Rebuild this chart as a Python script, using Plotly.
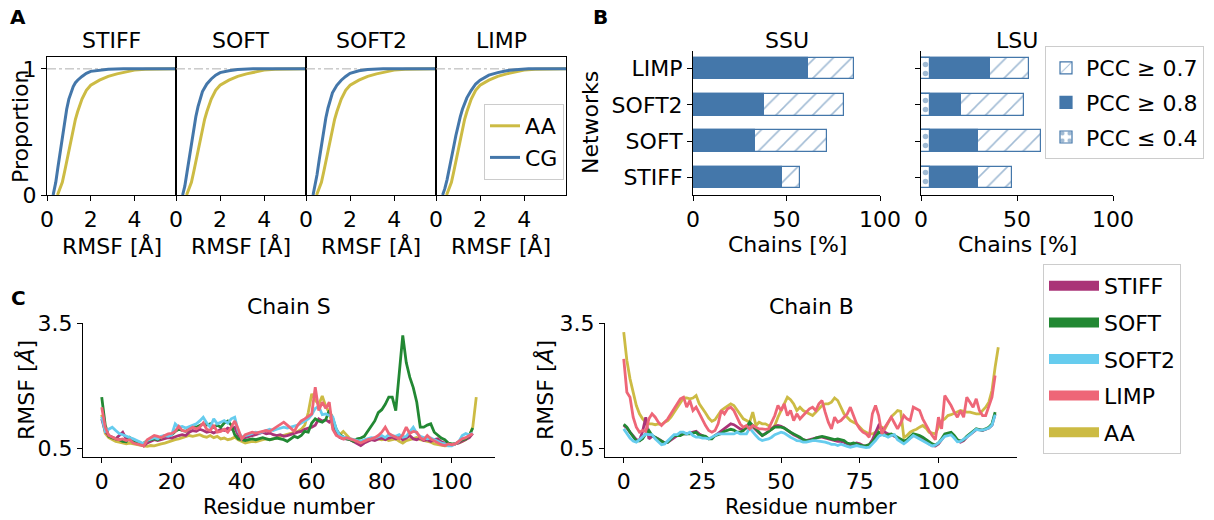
import plotly.graph_objects as go

W, H = 1214, 520
FONT = "DejaVu Sans"
FS = 22

def fx(x):
    return x / W

def fy(y):
    return 1 - y / H

BLUE = "#4477AA"
C_STIFF = "#AA3377"
C_SOFT = "#228833"
C_SOFT2 = "#66CCEE"
C_LIMP = "#EE6677"
C_AA = "#CCBB44"

# ---------------- Panel A : cumulative RMSF distributions ----------------
networks = ["STIFF", "SOFT", "SOFT2", "LIMP"]

cdf_aa_x = [0.48, 0.6, 0.7, 0.8, 0.9, 1.0, 1.1, 1.2, 1.3, 1.4, 1.6, 1.8, 2.0, 2.4, 2.8, 3.2, 3.6, 4.0, 4.5, 5.9]
cdf_aa_y = [0.0, 0.05, 0.1, 0.18, 0.27, 0.36, 0.45, 0.53, 0.6, 0.66, 0.76, 0.83, 0.87, 0.91, 0.94, 0.96, 0.975, 0.99, 0.997, 1.0]

cdf_stiff_x = [0.28, 0.4, 0.5, 0.6, 0.7, 0.8, 0.9, 1.0, 1.1, 1.2, 1.3, 1.4, 1.6, 1.8, 2.0, 2.4, 2.8, 3.5, 5.9]
cdf_stiff_y = [0.0, 0.1, 0.22, 0.34, 0.46, 0.58, 0.68, 0.76, 0.82, 0.86, 0.89, 0.91, 0.94, 0.965, 0.98, 0.99, 0.996, 1.0, 1.0]

cdf_soft_x = [0.3, 0.4, 0.5, 0.6, 0.7, 0.8, 0.9, 1.0, 1.1, 1.2, 1.4, 1.6, 1.8, 2.0, 2.4, 2.8, 3.5, 5.9]
cdf_soft_y = [0.0, 0.07, 0.18, 0.3, 0.41, 0.52, 0.62, 0.7, 0.77, 0.82, 0.88, 0.92, 0.95, 0.97, 0.985, 0.995, 1.0, 1.0]

cdf_soft2_x = [0.32, 0.4, 0.5, 0.6, 0.7, 0.8, 0.9, 1.0, 1.1, 1.2, 1.4, 1.6, 1.8, 2.0, 2.4, 2.8, 3.5, 5.9]
cdf_soft2_y = [0.0, 0.06, 0.16, 0.28, 0.4, 0.51, 0.61, 0.69, 0.76, 0.81, 0.87, 0.91, 0.94, 0.965, 0.985, 0.995, 1.0, 1.0]

cdf_limp_x = [0.3, 0.4, 0.5, 0.6, 0.7, 0.8, 0.9, 1.0, 1.1, 1.2, 1.4, 1.6, 1.8, 2.0, 2.4, 2.8, 3.2, 3.6, 4.2, 5.9]
cdf_limp_y = [0.0, 0.05, 0.12, 0.2, 0.29, 0.38, 0.47, 0.55, 0.62, 0.68, 0.77, 0.83, 0.88, 0.91, 0.95, 0.97, 0.985, 0.993, 1.0, 1.0]

# ---------------- Panel B : chains with good correlation ----------------
ssu_pcc07 = [57.0, 71.6, 81.0, 86.0]   # STIFF, SOFT, SOFT2, LIMP
ssu_pcc08 = [47.6, 33.3, 37.9, 61.7]
lsu_pcc07 = [47.3, 62.5, 53.5, 56.3]
lsu_pcc08 = [29.8, 29.8, 21.0, 35.8]
lsu_pcc04 = [4.8, 4.8, 4.8, 4.8]
bar_pos = [0, 1, 2, 3]

# ---------------- Panel C : per-residue RMSF ----------------
chain_s_res_cg = list(range(107))
chain_s_res_aa = list(range(108))

chain_s_stiff = [
    1.2, 0.9, 0.8, 0.75, 0.72, 0.8, 0.88, 0.72, 0.7, 0.68,
    0.65, 0.6, 0.55, 0.62, 0.66, 0.7, 0.68, 0.7, 0.72, 0.75,
    0.74, 0.78, 0.8, 0.82, 0.8, 0.88, 0.92, 0.9, 0.95, 0.92,
    0.88, 0.9, 0.86, 0.9, 0.95, 0.92, 0.98, 0.95, 1.0, 0.8,
    0.72, 0.75, 0.78, 0.8, 0.82, 0.85, 0.88, 0.84, 0.86, 0.82,
    0.8, 0.82, 0.78, 0.8, 0.82, 0.85, 0.88, 0.9, 0.95, 0.98,
    1.0, 1.05, 1.2, 1.15, 1.18, 1.12, 1.2, 0.85, 0.75, 0.72,
    0.72, 0.7, 0.66, 0.6, 0.56, 0.62, 0.66, 0.7, 0.68, 0.72,
    0.74, 0.7, 0.74, 0.76, 0.72, 0.78, 0.7, 0.74, 0.8, 0.72,
    0.7, 0.74, 0.68, 0.7, 0.66, 0.7, 0.72, 0.65, 0.62, 0.6,
    0.58, 0.6, 0.62, 0.66, 0.7, 0.75, 0.85]
chain_s_soft = [
    1.72, 1.05, 0.78, 0.74, 0.72, 0.7, 0.66, 0.65, 0.75, 0.65,
    0.62, 0.6, 0.62, 0.68, 0.7, 0.72, 0.7, 0.75, 0.8, 0.8,
    0.82, 0.9, 0.95, 0.92, 0.9, 0.95, 1.02, 1.0, 1.05, 1.08,
    1.05, 1.08, 1.0, 1.05, 1.0, 1.1, 1.15, 1.05, 0.82, 0.72,
    0.7, 0.68, 0.7, 0.72, 0.7, 0.72, 0.75, 0.72, 0.7, 0.72,
    0.74, 0.72, 0.7, 0.66, 0.72, 0.78, 0.75, 0.8, 0.9, 0.88,
    1.1, 1.2, 1.15, 1.12, 1.18, 1.4, 1.2, 0.95, 0.82, 0.78,
    0.72, 0.7, 0.66, 0.72, 0.74, 0.78, 0.9, 1.0, 1.15, 1.35,
    1.42, 1.55, 1.72, 1.72, 1.4, 2.3, 3.2, 2.55, 2.2, 1.95,
    1.6, 1.0, 1.0, 1.05, 1.08, 0.88, 0.8, 0.74, 0.7, 0.62,
    0.6, 0.6, 0.65, 0.7, 0.72, 0.8, 0.98]
chain_s_soft2 = [
    1.25, 0.9, 0.95, 1.0, 0.92, 0.85, 0.82, 0.78, 0.75, 0.72,
    0.68, 0.65, 0.6, 0.68, 0.72, 0.75, 0.72, 0.78, 0.8, 0.78,
    0.82, 1.08, 1.0, 1.02, 0.98, 1.02, 1.05, 1.08, 1.15, 1.24,
    1.1, 1.0, 1.2, 1.08, 1.12, 1.16, 1.1, 1.2, 1.24, 0.9,
    0.76, 0.8, 0.82, 0.85, 0.88, 0.86, 0.9, 0.92, 0.95, 0.92,
    0.95, 0.98, 1.0, 0.98, 1.0, 1.02, 1.05, 1.1, 1.15, 1.2,
    1.3, 1.45, 1.5, 1.3, 1.32, 1.28, 1.25, 0.95, 0.8, 0.76,
    0.74, 0.72, 0.7, 0.68, 0.66, 0.7, 0.72, 0.75, 0.74, 0.78,
    0.8, 0.75, 0.82, 0.8, 0.78, 0.82, 0.76, 0.78, 0.9, 1.0,
    0.85, 0.78, 0.75, 0.72, 0.74, 0.7, 0.65, 0.62, 0.6, 0.55,
    0.55, 0.6, 0.65, 0.8, 0.85, 0.82, 0.86]
chain_s_limp = [
    1.48, 1.0, 0.8, 0.75, 0.72, 0.7, 0.72, 0.68, 0.7, 0.62,
    0.6, 0.58, 0.55, 0.7, 0.75, 0.8, 0.78, 0.75, 0.8, 0.84,
    0.85, 0.9, 1.02, 0.92, 0.9, 0.95, 1.0, 0.96, 1.0, 1.1,
    0.95, 0.92, 1.05, 0.88, 0.9, 0.95, 0.88, 1.0, 1.15, 0.95,
    0.72, 0.82, 0.85, 0.88, 0.86, 0.88, 0.9, 0.92, 0.9, 0.95,
    1.0, 1.05, 1.12, 1.05, 0.98, 0.9, 1.05, 1.15, 1.2, 1.25,
    1.32, 1.96, 1.4, 1.6, 1.45, 1.6, 0.95, 0.8, 0.76, 0.72,
    0.75, 0.72, 0.7, 0.66, 0.62, 0.66, 0.7, 0.72, 0.75, 0.8,
    0.88, 1.0, 0.85, 0.8, 0.75, 0.72, 0.82, 1.0, 0.85, 0.9,
    0.88, 0.75, 0.7, 0.8, 0.72, 0.68, 0.62, 0.58, 0.56, 0.6,
    0.58, 0.6, 0.66, 0.72, 0.75, 0.8, 0.85]
chain_s_aa = [
    1.3, 0.85, 0.75, 0.7, 0.66, 0.64, 0.62, 0.6, 0.62, 0.6,
    0.58, 0.56, 0.55, 0.54, 0.56, 0.55, 0.58, 0.6, 0.62, 0.65,
    0.68, 0.7, 0.72, 0.75, 0.78, 0.8, 0.78, 0.8, 0.82, 0.78,
    0.76, 0.8, 0.75, 0.78, 0.72, 0.74, 0.7, 0.72, 0.76, 0.7,
    0.65, 0.62, 0.64, 0.66, 0.65, 0.68, 0.7, 0.72, 0.7, 0.72,
    0.74, 0.78, 0.8, 0.82, 0.85, 0.88, 0.9, 0.95, 1.05, 1.35,
    1.8, 1.65, 1.55, 1.75, 1.5, 1.35, 1.0, 0.85, 0.82, 0.9,
    0.8, 0.72, 0.7, 0.66, 0.64, 0.66, 0.68, 0.7, 0.7, 0.72,
    0.7, 0.72, 0.68, 0.7, 0.72, 0.66, 0.62, 0.68, 0.7, 0.72,
    0.75, 0.7, 0.68, 0.66, 0.64, 0.6, 0.58, 0.56, 0.55, 0.56,
    0.58, 0.6, 0.62, 0.66, 0.7, 0.8, 1.0, 1.72]

chain_b_res_cg = list(range(119))
chain_b_res_aa = list(range(120))

chain_b_stiff = [
    1.05, 0.98, 0.88, 0.78, 0.7, 0.68, 0.9, 1.24, 0.72, 0.78,
    0.76, 0.72, 0.66, 0.62, 0.64, 0.7, 0.76, 0.8, 0.82, 0.84,
    0.84, 0.86, 0.88, 0.9, 0.84, 0.8, 0.76, 0.72, 0.74, 0.8,
    0.86, 0.92, 0.98, 1.04, 1.08, 1.06, 1.0, 0.96, 0.94, 0.98,
    1.08, 1.0, 0.94, 0.86, 0.8, 0.84, 0.9, 0.96, 1.02, 1.04,
    1.02, 0.98, 0.92, 0.86, 0.82, 0.78, 0.74, 0.7, 0.68, 0.7,
    0.72, 0.74, 0.76, 0.76, 0.74, 0.72, 0.7, 0.68, 0.66, 0.66,
    0.64, 0.6, 0.58, 0.6, 0.62, 0.6, 0.56, 0.55, 0.58, 0.7,
    0.88, 1.04, 0.96, 0.88, 0.84, 0.82, 0.78, 0.74, 0.7, 0.66,
    0.68, 0.74, 0.8, 0.8, 0.76, 0.72, 0.66, 0.6, 0.56, 0.55,
    0.6, 0.7, 0.8, 0.84, 0.85, 0.78, 0.68, 0.64, 0.68, 0.76,
    0.82, 0.88, 0.94, 0.94, 0.92, 0.95, 0.98, 1.05, 1.32]
chain_b_soft = [
    1.07, 1.0, 0.88, 0.76, 0.67, 0.67, 0.72, 0.84, 0.92, 0.8,
    0.76, 0.72, 0.67, 0.62, 0.64, 0.72, 0.8, 0.8, 0.8, 0.84,
    0.84, 0.84, 0.86, 0.88, 0.8, 0.8, 0.78, 0.72, 0.72, 0.8,
    0.82, 0.85, 0.9, 0.93, 0.95, 0.93, 0.88, 0.88, 0.92, 1.0,
    1.12, 1.04, 0.96, 0.88, 0.8, 0.84, 0.9, 0.96, 1.0, 1.0,
    1.0, 0.98, 0.92, 0.88, 0.84, 0.8, 0.76, 0.7, 0.68, 0.68,
    0.7, 0.74, 0.76, 0.78, 0.76, 0.74, 0.72, 0.7, 0.72, 0.7,
    0.68, 0.62, 0.6, 0.62, 0.6, 0.58, 0.55, 0.56, 0.58, 0.64,
    0.76, 0.88, 0.84, 0.8, 0.82, 0.84, 0.8, 0.76, 0.72, 0.67,
    0.7, 0.78, 0.84, 0.82, 0.8, 0.76, 0.7, 0.64, 0.6, 0.57,
    0.62, 0.72, 0.84, 0.86, 0.88, 0.8, 0.7, 0.67, 0.7, 0.78,
    0.84, 0.9, 0.96, 0.94, 0.93, 0.96, 1.0, 1.08, 1.36]
chain_b_soft2 = [
    0.96, 0.84, 0.74, 0.67, 0.64, 0.7, 0.76, 0.84, 0.82, 0.82,
    0.72, 0.64, 0.58, 0.6, 0.68, 0.76, 0.82, 0.82, 0.88, 0.88,
    0.84, 0.88, 0.8, 0.76, 0.76, 0.74, 0.74, 0.72, 0.76, 0.82,
    0.84, 0.84, 0.84, 0.84, 0.84, 0.84, 0.88, 0.84, 0.84, 0.84,
    0.98, 0.88, 0.8, 0.72, 0.68, 0.7, 0.72, 0.76, 0.82, 0.85,
    0.88, 0.86, 0.8, 0.76, 0.72, 0.68, 0.67, 0.64, 0.64, 0.66,
    0.68, 0.68, 0.67, 0.66, 0.64, 0.62, 0.59, 0.59, 0.56, 0.59,
    0.56, 0.54, 0.52, 0.54, 0.56, 0.54, 0.52, 0.51, 0.52, 0.59,
    0.68, 0.78, 0.82, 0.8, 0.76, 0.8, 0.82, 0.7, 0.65, 0.6,
    0.66, 0.74, 0.8, 0.76, 0.72, 0.68, 0.62, 0.58, 0.55, 0.57,
    0.62, 0.7, 0.78, 0.8, 0.82, 0.74, 0.65, 0.66, 0.7, 0.76,
    0.82, 0.88, 0.95, 0.93, 0.93, 0.95, 0.98, 1.05, 1.3]
chain_b_limp = [
    2.64, 1.84, 1.72, 1.24, 1.0, 0.88, 0.92, 0.9, 1.2, 1.32,
    1.24, 1.12, 1.04, 1.12, 1.2, 1.32, 1.44, 1.58, 1.68, 1.72,
    1.48, 1.64, 1.4, 1.48, 1.32, 1.16, 1.04, 0.92, 0.88, 0.92,
    1.08, 1.4, 1.32, 1.44, 1.48, 1.4, 1.24, 1.08, 1.0, 1.04,
    0.96, 1.04, 1.0, 0.96, 0.96, 0.95, 0.96, 1.12, 1.28, 1.52,
    1.4, 1.56, 1.28, 1.4, 1.16, 1.32, 1.2, 1.28, 1.36, 1.44,
    1.48, 1.4, 1.56, 1.64, 1.36, 1.12, 0.96, 1.24, 1.12, 1.16,
    1.24, 1.32, 1.48, 1.28, 1.08, 0.96, 0.88, 0.84, 0.76, 1.32,
    1.52, 1.28, 0.84, 1.0, 1.12, 1.24, 1.1, 0.96, 1.1, 1.28,
    1.2, 1.16, 1.48, 1.44, 1.4, 1.2, 1.04, 0.92, 0.8, 0.7,
    1.24, 0.96, 1.76, 1.64, 1.52, 1.36, 1.24, 1.4, 1.24, 1.72,
    1.6, 1.48, 1.68, 1.4, 1.28, 1.28, 1.5, 1.72, 2.24]
chain_b_aa = [
    3.28, 2.6, 2.16, 1.8, 1.52, 1.32, 1.2, 1.12, 1.08, 1.08,
    1.06, 1.08, 1.06, 1.12, 1.16, 1.24, 1.36, 1.48, 1.6, 1.7,
    1.7, 1.68, 1.7, 1.76, 1.56, 1.46, 1.34, 1.22, 1.14, 1.18,
    1.3, 1.4, 1.46, 1.5, 1.56, 1.52, 1.42, 1.32, 1.2, 1.16,
    1.12, 1.36, 1.04, 1.12, 1.08, 1.08, 1.04, 0.96, 1.04, 1.24,
    1.4, 1.56, 1.72, 1.66, 1.56, 1.4, 1.48, 1.4, 1.36, 1.32,
    1.28, 1.36, 1.44, 1.52, 1.56, 1.56, 1.6, 1.7, 1.64, 1.48,
    1.32, 1.24, 1.16, 1.12, 1.08, 1.0, 0.92, 0.88, 0.84, 0.84,
    0.88, 0.96, 1.0, 0.96, 1.1, 1.25, 1.32, 1.4, 1.38, 0.75,
    0.8, 0.88, 0.92, 0.95, 1.0, 1.04, 0.98, 0.88, 0.86, 0.84,
    1.0, 1.15, 1.2, 1.28, 1.3, 1.34, 1.38, 1.4, 1.38, 1.36,
    1.36, 1.34, 1.32, 1.32, 1.4, 1.48, 1.6, 1.88, 2.44, 2.92]

# ---------------- Figure ----------------
fig = go.Figure()

cdf_cg = {
    "STIFF": (cdf_stiff_x, cdf_stiff_y),
    "SOFT": (cdf_soft_x, cdf_soft_y),
    "SOFT2": (cdf_soft2_x, cdf_soft2_y),
    "LIMP": (cdf_limp_x, cdf_limp_y),
}
for i, net in enumerate(networks):
    ax = "" if i == 0 else str(i + 1)
    last = i == 3
    fig.add_trace(go.Scatter(x=cdf_aa_x, y=cdf_aa_y, mode="lines", name="AA",
                             line=dict(color=C_AA, width=3), xaxis="x" + ax, yaxis="y" + ax,
                             showlegend=last, legend="legend"))
    cx, cy = cdf_cg[net]
    fig.add_trace(go.Scatter(x=cx, y=cy, mode="lines", name="CG",
                             line=dict(color=BLUE, width=3), xaxis="x" + ax, yaxis="y" + ax,
                             showlegend=last, legend="legend"))
    fig.add_shape(type="line", xref="x" + ax, yref="y" + ax, x0=0, x1=5.9, y0=1, y1=1,
                  line=dict(color="#b0b0b0", width=1, dash="dashdot"), layer="below")

hatch = dict(shape="/", fgcolor=BLUE, bgcolor="white", size=13, solidity=0.12)
dots = dict(shape=".", fgcolor=BLUE, bgcolor="white", size=9, solidity=0.3)

for (xa, ya, tot, hi, low, show) in [("x5", "y5", ssu_pcc07, ssu_pcc08, None, False),
                                      ("x6", "y6", lsu_pcc07, lsu_pcc08, lsu_pcc04, True)]:
    fig.add_trace(go.Bar(y=bar_pos, x=tot, orientation="h", width=0.6, name="PCC ≥ 0.7",
                         marker=dict(color="white", line=dict(color=BLUE, width=1.2), pattern=hatch),
                         xaxis=xa, yaxis=ya, showlegend=show, legend="legend2", legendgroup="g07"))
    fig.add_trace(go.Bar(y=bar_pos, x=hi, orientation="h", width=0.6, name="PCC ≥ 0.8",
                         marker=dict(color=BLUE, line=dict(color=BLUE, width=1.2)),
                         xaxis=xa, yaxis=ya, showlegend=show, legend="legend2", legendgroup="g08"))
    if low is not None:
        fig.add_trace(go.Bar(y=bar_pos, x=low, orientation="h", width=0.6, name="PCC ≤ 0.4",
                             marker=dict(color="white", line=dict(color=BLUE, width=1.2), pattern=dots),
                             xaxis=xa, yaxis=ya, showlegend=show, legend="legend2", legendgroup="g04"))

series_c = [("AA", C_AA, chain_s_aa, chain_b_aa, chain_s_res_aa, chain_b_res_aa),
            ("STIFF", C_STIFF, chain_s_stiff, chain_b_stiff, chain_s_res_cg, chain_b_res_cg),
            ("SOFT", C_SOFT, chain_s_soft, chain_b_soft, chain_s_res_cg, chain_b_res_cg),
            ("SOFT2", C_SOFT2, chain_s_soft2, chain_b_soft2, chain_s_res_cg, chain_b_res_cg),
            ("LIMP", C_LIMP, chain_s_limp, chain_b_limp, chain_s_res_cg, chain_b_res_cg)]
for name, col, ys, yb, xs, xb in series_c:
    fig.add_trace(go.Scatter(x=xs, y=ys, mode="lines", line=dict(color=col, width=2.8),
                             xaxis="x7", yaxis="y7", showlegend=False, name=name))
    fig.add_trace(go.Scatter(x=xb, y=yb, mode="lines", line=dict(color=col, width=2.8),
                             xaxis="x8", yaxis="y8", showlegend=False, name=name))
for name, col in [("STIFF", C_STIFF), ("SOFT", C_SOFT), ("SOFT2", C_SOFT2), ("LIMP", C_LIMP), ("AA", C_AA)]:
    fig.add_trace(go.Scatter(x=[None], y=[None], mode="lines", line=dict(color=col, width=17),
                             name=name, xaxis="x7", yaxis="y7", showlegend=True,
                             legend="legend3", legendgroup=name))


def ax_style(**kw):
    d = dict(showgrid=False, zeroline=False, showline=True, linecolor="black", linewidth=1,
             ticks="outside", ticklen=5, tickwidth=1, tickcolor="black",
             tickfont=dict(family=FONT, size=FS, color="black"), automargin=False)
    d.update(kw)
    return d

layout = dict(
    width=W, height=H, autosize=False,
    margin=dict(l=0, r=0, t=0, b=0),
    paper_bgcolor="white", plot_bgcolor="white",
    font=dict(family=FONT, size=FS, color="black"),
    barmode="overlay", bargap=0,
)

a_dom = [(47, 176), (176, 306), (306, 436), (436, 566)]
for i, (l, r) in enumerate(a_dom):
    sfx = "" if i == 0 else str(i + 1)
    ysfx = "y" + sfx
    xsfx = "x" + sfx
    layout["xaxis" + sfx] = ax_style(domain=[fx(l), fx(r)], range=[0, 5.9], tickvals=[0, 2, 4],
                                     anchor=ysfx, mirror=True)
    layout["yaxis" + sfx] = ax_style(domain=[fy(195), fy(57)], range=[0, 1.094], tickvals=[0, 1],
                                     anchor=xsfx, mirror=True, showticklabels=(i == 0),
                                     ticks="outside" if i == 0 else "")

layout["xaxis5"] = ax_style(domain=[fx(693), fx(880)], range=[0, 100], tickvals=[0, 50, 100], anchor="y5")
layout["yaxis5"] = ax_style(domain=[fy(195), fy(51)], range=[-0.48, 3.48], tickvals=bar_pos,
                            ticktext=networks, anchor="x5")
layout["xaxis6"] = ax_style(domain=[fx(921), fx(1113)], range=[0, 100], tickvals=[0, 50, 100], anchor="y6")
layout["yaxis6"] = ax_style(domain=[fy(195), fy(51)], range=[-0.48, 3.48], tickvals=bar_pos,
                            showticklabels=False, anchor="x6")

C_TOP, C_BOT = 323.0, 457.0
layout["xaxis7"] = ax_style(domain=[fx(83), fx(495)], range=[-5.35, 112.35],
                            tickvals=[0, 20, 40, 60, 80, 100], anchor="y7")
layout["yaxis7"] = ax_style(domain=[fy(C_BOT), fy(C_TOP)], range=[0.285, 3.5],
                            tickvals=[0.5, 3.5], ticktext=["0.5", "3.5"], anchor="x7")
layout["xaxis8"] = ax_style(domain=[fx(605), fx(1017)], range=[-5.95, 124.95],
                            tickvals=[0, 25, 50, 75, 100], anchor="y8")
layout["yaxis8"] = ax_style(domain=[fy(C_BOT), fy(C_TOP)], range=[0.285, 3.5],
                            tickvals=[0.5, 3.5], ticktext=["0.5", "3.5"], anchor="x8")

legend_common = dict(bgcolor="white", bordercolor="#cccccc", borderwidth=1,
                     font=dict(family=FONT, size=FS, color="black"),
                     xanchor="left", yanchor="top")
layout["legend"] = dict(legend_common, x=fx(484), y=fy(104), itemwidth=30, traceorder="normal")
layout["legend2"] = dict(legend_common, x=fx(1045), y=fy(46), itemwidth=30,
                         traceorder="grouped", tracegroupgap=3)
layout["legend3"] = dict(legend_common, x=fx(1043), y=fy(264), itemwidth=50,
                         traceorder="grouped", tracegroupgap=5)

fig.update_layout(**layout)

annots = []
def txt(x, y, s, size=FS, bold=False, angle=0):
    annots.append(dict(x=fx(x), y=fy(y), xref="paper", yref="paper", text=("<b>%s</b>" % s) if bold else s,
                       showarrow=False, xanchor="center", yanchor="middle", textangle=angle,
                       font=dict(family=FONT, size=size, color="black")))

txt(18, 17, "A", size=20, bold=True)
txt(600, 17, "B", size=20, bold=True)
txt(18, 298, "C", size=20, bold=True)
for (l, r), net in zip(a_dom, networks):
    txt((l + r) / 2, 41, net)
    txt((l + r) / 2, 246, "RMSF [Å]")
txt(20, 126, "Proportion", angle=-90)
txt(787, 41, "SSU")
txt(1017, 41, "LSU")
txt(787, 244, "Chains [%]")
txt(1017, 244, "Chains [%]")
txt(590, 123, "Networks", angle=-90)
txt(289, 306, "Chain S")
txt(811, 306, "Chain B")
txt(289, 507, "Residue number", size=21)
txt(811, 507, "Residue number", size=21)
txt(26, 390, "RMSF [<i>Å</i>]", angle=-90)
txt(545, 390, "RMSF [<i>Å</i>]", angle=-90)

fig.update_layout(annotations=annots)
fig.write_html("out.html")
